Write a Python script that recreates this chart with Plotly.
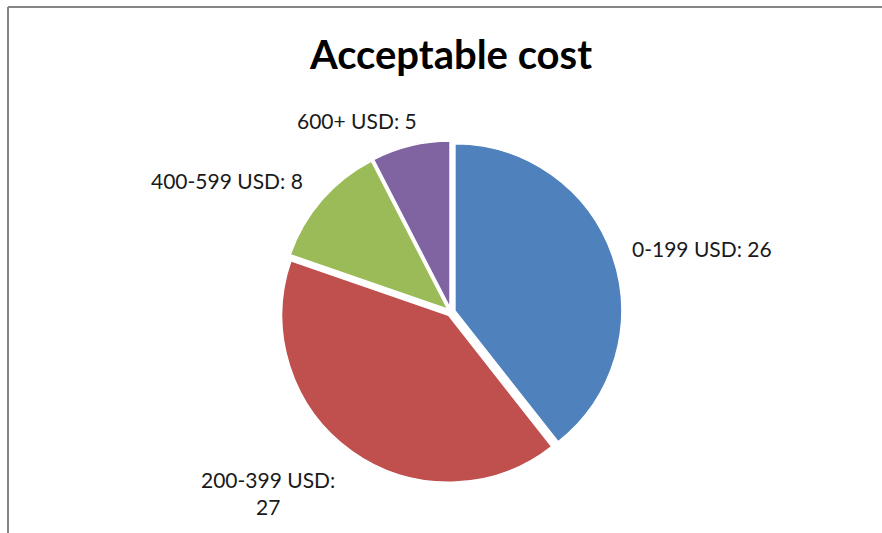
import plotly.graph_objects as go

# Acceptable cost survey answers
categories = ["0-199 USD", "200-399 USD", "400-599 USD", "600+ USD"]
counts = [26, 27, 8, 5]
colors = ["#4F81BD", "#C0504D", "#9BBB59", "#8064A2"]

W, H = 882, 533
cx, cy, r = 451, 312, 171  # pie centre and radius in pixels


def px_x(x):
    return x / W


def px_y(y):
    return 1 - y / H


fig = go.Figure(
    go.Pie(
        labels=categories,
        values=counts,
        sort=False,
        direction="clockwise",
        rotation=0,
        marker=dict(colors=colors, line=dict(color="white", width=1.5)),
        pull=[0.025] * len(counts),
        textinfo="none",
        hoverinfo="label+value",
        domain=dict(x=[px_x(cx - r), px_x(cx + r)], y=[px_y(cy + r), px_y(cy - r)]),
    )
)

# data labels placed around the pie
label_pos = [(702, 248), (268, 493), (227, 180), (357, 120)]
label_text = [f"{c}: {v}" for c, v in zip(categories, counts)]
label_text[1] = f"{categories[1]}:<br>{counts[1]}"
for (lx, ly), t in zip(label_pos, label_text):
    fig.add_annotation(
        x=px_x(lx), y=px_y(ly), xref="paper", yref="paper",
        text=t, showarrow=False, align="center",
        font=dict(family="Lato", size=21, color="#1a1a1a"),
        xanchor="center", yanchor="middle",
    )

# chart-area frame (top and left edges visible)
fig.add_shape(type="line", xref="paper", yref="paper",
              x0=px_x(8), x1=1.01, y0=px_y(7), y1=px_y(7),
              line=dict(color="#868686", width=2))
fig.add_shape(type="line", xref="paper", yref="paper",
              x0=px_x(8), x1=px_x(8), y0=px_y(7), y1=-0.01,
              line=dict(color="#868686", width=2))

fig.update_layout(
    width=W, height=H,
    margin=dict(l=0, r=0, t=0, b=0),
    paper_bgcolor="white",
    showlegend=False,
    title=dict(text="<b>Acceptable cost</b>", x=px_x(451), y=px_y(55),
               xanchor="center", yanchor="middle",
               font=dict(family="Lato", size=40, color="black")),
)

fig.write_html("out.html")
